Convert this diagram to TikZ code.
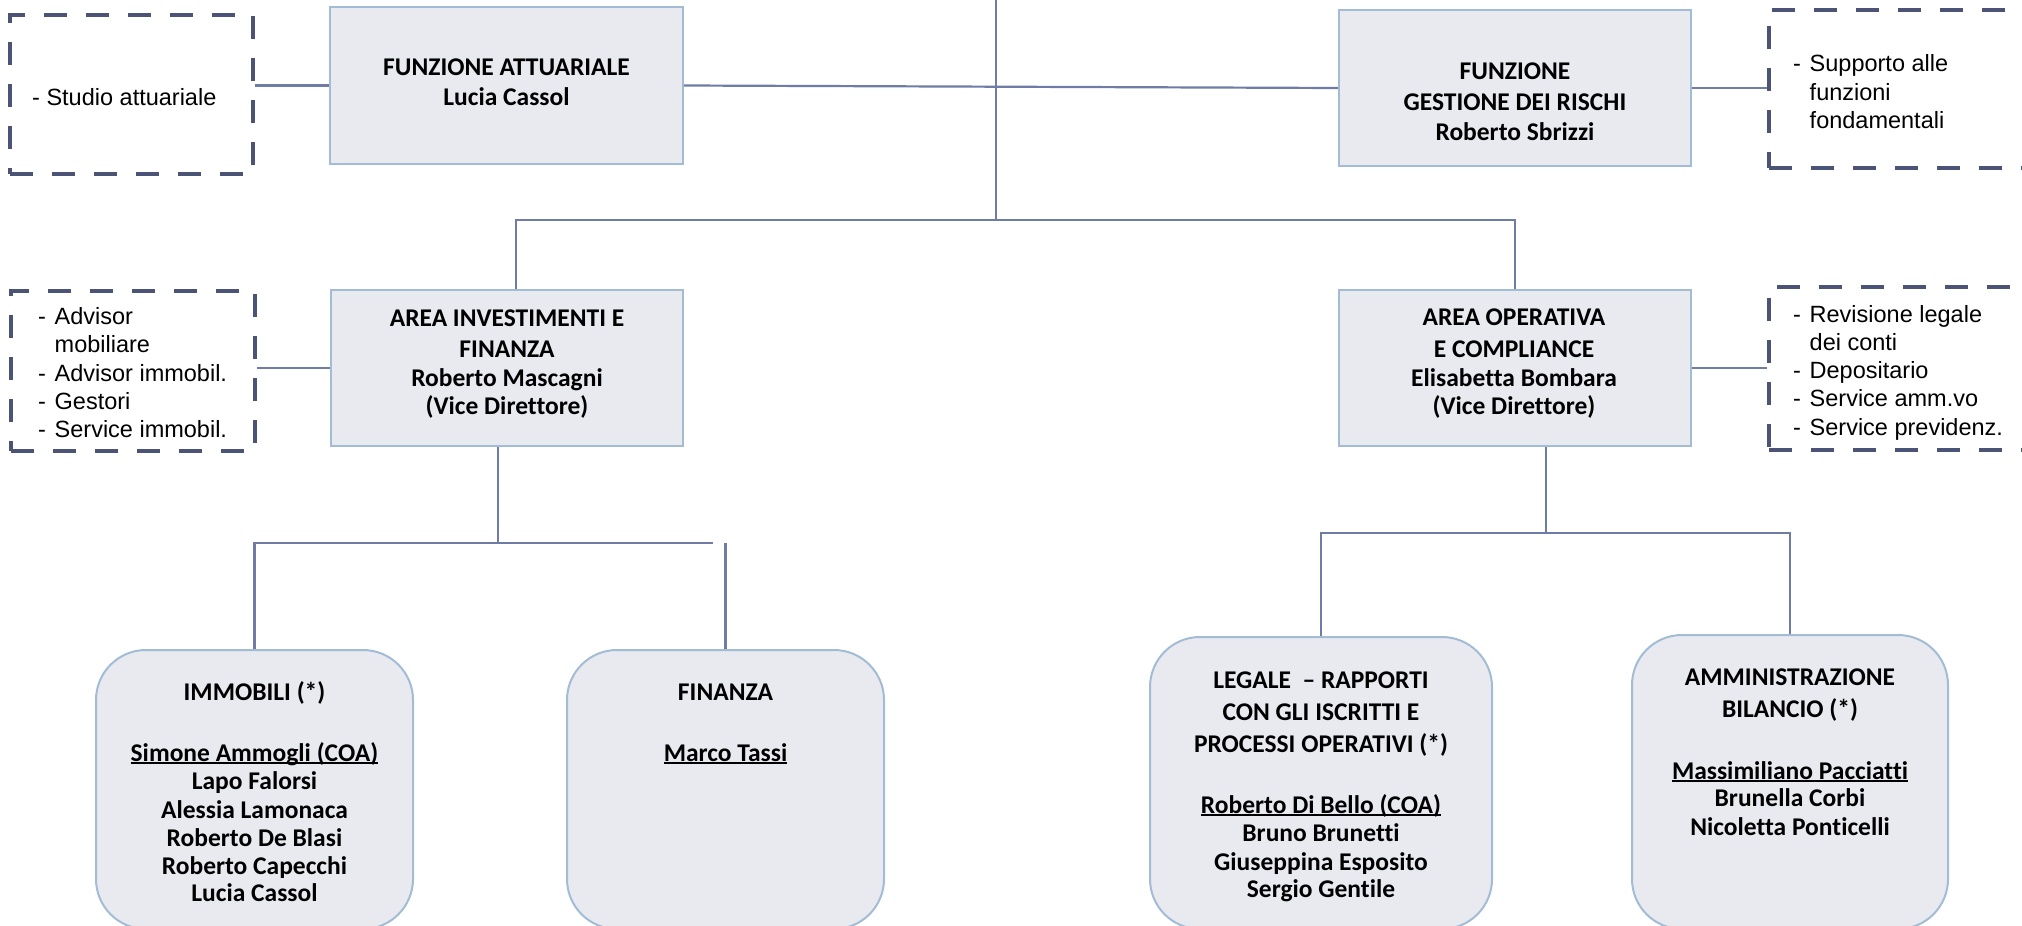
\documentclass[tikz,border=0pt]{standalone}
\usepackage{fontspec}
\setmainfont{Carlito}[Ligatures=CommonOff]
\newfontfamily\arialf{Liberation Sans}
\definecolor{boxfill}{HTML}{E8EAF0}
\definecolor{boxline}{HTML}{A3BCD6}
\definecolor{conncol}{HTML}{6F7CA6}
\definecolor{dashcol}{HTML}{4B5476}
\newcommand\ulname[1]{\setbox0=\hbox{#1}\rlap{\rule[-3pt]{\wd0}{1.6pt}}\box0}
\newcommand\itm{\makebox[16.5pt][l]{-}}
\tikzset{
  box/.style={draw=boxline, line width=2pt, fill=boxfill, inner sep=0pt, rectangle},
  rbox/.style={box, rounded corners=50pt},
  dbox/.style={draw=dashcol, line width=4.5pt, dash pattern=on 23pt off 19pt, inner sep=0pt, rectangle},
  conn/.style={draw=conncol, line width=2.2pt},
  tt/.style={inner sep=0pt, anchor=base, font=\bfseries\fontsize{25.5}{30}\selectfont},
  lt/.style={inner sep=0pt, anchor=base west, font=\arialf\fontsize{23.5}{27}\selectfont},
}
\begin{document}
\begin{tikzpicture}[x=1pt,y=-1pt]
\useasboundingbox (0,0) rectangle (2022,926);
\clip (0,0) rectangle (2022,926);
% boxes
\node[dbox, minimum width=243pt, minimum height=159pt] (d1) at (131.5,94.5) {};
\node[box, minimum width=353pt, minimum height=157pt] (fa) at (506.5,85.5) {};
\node[box, minimum width=352pt, minimum height=156pt] (gr) at (1515,88) {};
\node[dbox, minimum width=291pt, minimum height=158pt] (d2) at (1914.5,89) {};
\node[box, minimum width=352pt, minimum height=156pt] (ai) at (507,368) {};
\node[dbox, minimum width=244pt, minimum height=160pt] (d3) at (133,371) {};
\node[box, minimum width=352pt, minimum height=156pt] (ao) at (1515,368) {};
\node[dbox, minimum width=291pt, minimum height=163pt] (d4) at (1914.5,368.5) {};
\node[rbox, minimum width=317pt, minimum height=279pt] (im) at (254.5,789.5) {};
\node[rbox, minimum width=317pt, minimum height=279pt] (fi) at (725.5,789.5) {};
\node[rbox, minimum width=342pt, minimum height=292pt] (le) at (1321,783) {};
\node[rbox, minimum width=316pt, minimum height=294pt] (am) at (1790,782) {};
% junctions
\coordinate (top) at (996,-3);
\coordinate (hub) at (996,220);
\coordinate (j2) at (498,543);
\coordinate (j2e) at (713,543);
\coordinate (j3) at (1546,533);
% connectors
\draw[conn] (top) -- (hub);
\draw[conn] (fa.east) -- (gr.west);
\draw[conn] (fa.west) -- (fa.west -| d1.east);
\draw[conn] (gr.east) -- (gr.east -| d2.west);
\draw[conn] ([xshift=9pt]ai.north) |- (hub) -| (ao.north);
\draw[conn] (ai.west) -- (ai.west -| d3.east);
\draw[conn] (ao.east) -- (ao.east -| d4.west);
\draw[conn] (ai.south -| j2) -- (j2);
\draw[conn] (im.north) |- (j2e);
\draw[conn] (fi.north) -- (fi.north |- j2e);
\draw[conn] (ao.south -| j3) -- (j3);
\draw[conn] (le.north) |- (j3) -| (am.north);
% texts top
\node[tt] (fa1) at (506.5,75) {FUNZIONE ATTUARIALE};
\node[tt] (fa2) at (506.5,105) {Lucia Cassol};
\node[tt] (gr1) at (1515,79) {FUNZIONE};
\node[tt] (gr2) at (1515,110) {GESTIONE DEI RISCHI};
\node[tt] (gr3) at (1515,140) {Roberto Sbrizzi};
\node[lt] (d1a) at (32,105) {- Studio attuariale};
\node[lt] (d2a) at (1793,71) {\itm Supporto alle};
\node[lt] (d2b) at (1809.5,100) {funzioni};
\node[lt] (d2c) at (1809.5,128) {fondamentali};
% texts middle
\node[tt] (ai1) at (507,326) {AREA INVESTIMENTI E};
\node[tt] (ai2) at (507,357) {FINANZA};
\node[tt] (ai3) at (507,386) {Roberto Mascagni};
\node[tt] (ai4) at (507,414) {(Vice Direttore)};
\node[lt] (d3a) at (38,324) {\itm Advisor};
\node[lt] (d3b) at (54.5,352) {mobiliare};
\node[lt] (d3c) at (38,381) {\itm Advisor immobil.};
\node[lt] (d3d) at (38,409) {\itm Gestori};
\node[lt] (d3e) at (38,437) {\itm Service immobil.};
\node[tt] (ao1) at (1514,325) {AREA OPERATIVA};
\node[tt] (ao2) at (1514,357) {E COMPLIANCE};
\node[tt] (ao3) at (1514,386) {Elisabetta Bombara};
\node[tt] (ao4) at (1514,414) {(Vice Direttore)};
\node[lt] (d4a) at (1793,322) {\itm Revisione legale};
\node[lt] (d4b) at (1809.5,350) {dei conti};
\node[lt] (d4c) at (1793,378) {\itm Depositario};
\node[lt] (d4d) at (1793,406) {\itm Service amm.vo};
\node[lt] (d4e) at (1793,435) {\itm Service previdenz.};
% texts bottom
\node[tt] (im1) at (254.5,700) {IMMOBILI (*)};
\node[tt] (im2) at (254.5,761) {\ulname{Simone Ammogli (COA)}};
\node[tt] (im3) at (254.5,789) {Lapo Falorsi};
\node[tt] (im4) at (254.5,818) {Alessia Lamonaca};
\node[tt] (im5) at (254.5,846) {Roberto De Blasi};
\node[tt] (im6) at (254.5,874) {Roberto Capecchi};
\node[tt] (im7) at (254.5,901) {Lucia Cassol};
\node[tt] (fi1) at (725.5,700) {FINANZA};
\node[tt] (fi2) at (725.5,761) {\ulname{Marco Tassi}};
\node[tt] (le1) at (1321,688) {LEGALE\ \ – RAPPORTI};
\node[tt] (le2) at (1321,720) {CON GLI ISCRITTI E};
\node[tt] (le3) at (1321,752) {PROCESSI OPERATIVI (*)};
\node[tt] (le4) at (1321,813) {\ulname{Roberto Di Bello (COA)}};
\node[tt] (le5) at (1321,841) {Bruno Brunetti};
\node[tt] (le6) at (1321,870) {Giuseppina Esposito};
\node[tt] (le7) at (1321,897) {Sergio Gentile};
\node[tt] (am1) at (1790,685) {AMMINISTRAZIONE};
\node[tt] (am2) at (1790,717) {BILANCIO (*)};
\node[tt] (am3) at (1790,779) {\ulname{Massimiliano Pacciatti}};
\node[tt] (am4) at (1790,806) {Brunella Corbi};
\node[tt] (am5) at (1790,835) {Nicoletta Ponticelli};
\end{tikzpicture}
\end{document}
